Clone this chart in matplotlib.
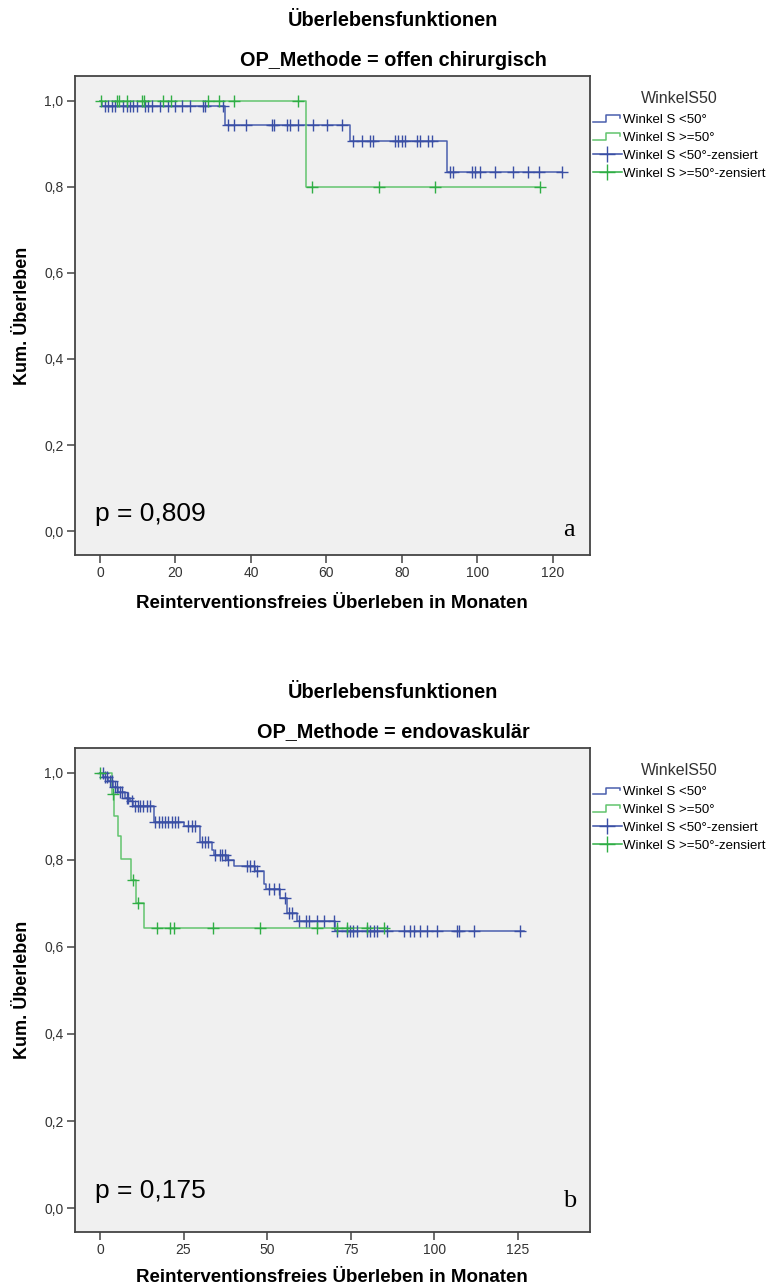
import numpy as np
import matplotlib
matplotlib.use("Agg")
import matplotlib.pyplot as plt
from matplotlib.legend_handler import HandlerBase
from matplotlib.lines import Line2D

plt.rcParams["font.family"] = ["Liberation Sans", "DejaVu Sans"]

# --- data: step times / survival levels / censoring times -------------------
# panel a: OP_Methode = offen chirurgisch
A_LT50_T = [0, 0.5, 33.0, 66.3, 92.0, 122.5]
A_LT50_S = [1.0, 0.988, 0.944, 0.907, 0.834, 0.834]
A_LT50_CENS = [1.3, 2.1, 3.2, 4.0, 6.1, 7.2, 8.0, 8.7, 9.8, 11.9, 12.7, 13.8,
               15.9, 18.0, 19.9, 21.7, 23.8, 27.3, 27.8, 32.6,
               33.8, 35.6, 38.6, 45.6, 46.2, 49.5, 50.3, 52.5, 56.5, 60.2, 64.2,
               66.9, 69.3, 71.5, 72.2, 78.1, 79.0, 79.9, 80.8, 83.9, 84.8, 87.0, 87.9,
               92.7, 93.6, 98.5, 99.3, 100.7, 104.6, 109.5, 113.5, 116.4, 122.5]
A_GE50_T = [0, 54.5, 116.6]
A_GE50_S = [1.0, 0.8, 0.8]
A_GE50_CENS = [0.2, 4.4, 5.1, 7.1, 11.0, 11.7, 16.8, 18.7, 28.7, 31.6, 35.6, 52.5,
               56.2, 74.0, 88.7, 116.6]

# panel b: OP_Methode = endovaskulär
B_LT50_T = [0, 1.0, 2.5, 4.0, 5.5, 7.5, 9.0, 10.0, 16.3, 25.0, 30.0, 33.4, 34.0,
            38.0, 40.0, 46.4, 48.9, 49.5, 53.9, 55.9, 58.9, 70.4, 126.7]
B_LT50_S = [1.0, 0.99, 0.982, 0.967, 0.957, 0.942, 0.935, 0.924, 0.888, 0.877,
            0.840, 0.822, 0.811, 0.800, 0.786, 0.774, 0.744, 0.732, 0.713, 0.678,
            0.659, 0.636, 0.636]
B_LT50_CENS = [0.8, 1.5, 2.0, 3.0, 3.6, 4.5, 5.0, 6.0, 6.6, 8.0, 8.5, 9.5, 10.5,
               11.3, 12.0, 13.0, 14.0, 15.0, 16.5, 17.7, 18.6, 19.5, 20.4, 21.6,
               22.5, 23.4, 26.4, 27.5, 28.4, 30.4, 31.4, 32.4, 34.4, 35.9, 36.4,
               37.4, 38.4, 44.0, 45.0, 46.0, 46.9, 50.4, 51.9, 53.4, 55.4, 56.4,
               57.4, 59.4, 61.5, 62.5, 64.9, 66.9, 69.9, 70.9, 73.9, 74.9, 75.8,
               76.8, 79.8, 80.8, 81.8, 82.8, 85.8, 90.8, 92.8, 93.8, 95.8, 97.8,
               100.8, 106.8, 107.3, 111.8, 125.7]
B_GE50_T = [0, 3.5, 4.2, 5.3, 6.3, 9.2, 10.8, 13.2, 85.8]
B_GE50_S = [1.0, 0.952, 0.902, 0.854, 0.803, 0.753, 0.702, 0.643, 0.643]
B_GE50_CENS = [0.1, 3.8, 10.0, 11.3, 17.0, 21.0, 22.0, 33.9, 47.9, 64.9, 70.9,
               73.9, 79.8, 84.8]

GROUPS = ["Winkel S <50°", "Winkel S >=50°"]
LEGEND_TITLE = "WinkelS50"
PANELS = [
    dict(method="offen chirurgisch", p="p = 0,809", tag="a",
         xticks=[0, 20, 40, 60, 80, 100, 120], xlim=(-6.75, 129.8),
         curves=[(A_LT50_T, A_LT50_S, A_LT50_CENS), (A_GE50_T, A_GE50_S, A_GE50_CENS)]),
    dict(method="endovaskulär", p="p = 0,175", tag="b",
         xticks=[0, 25, 50, 75, 100, 125], xlim=(-7.6, 146.5),
         curves=[(B_LT50_T, B_LT50_S, B_LT50_CENS), (B_GE50_T, B_GE50_S, B_GE50_CENS)]),
]

LINE_COLORS = ["#4a5fae", "#62c46e"]
CENS_COLORS = ["#3a4fa5", "#2fae45"]


def level_at(t, s, c):
    t = np.asarray(t)
    s = np.asarray(s)
    idx = np.searchsorted(t, c, side="right") - 1
    return s[np.clip(idx, 0, len(s) - 1)]


class StepHandler(HandlerBase):
    def create_artists(self, legend, orig_handle, xdescent, ydescent,
                       width, height, fontsize, trans):
        xs = np.array([0.0, 0.45, 0.45, 0.95, 0.95]) * width - xdescent
        ys = np.array([0.1, 0.1, 0.85, 0.85, 0.55]) * height - ydescent
        ln = Line2D(xs, ys, color=orig_handle.get_color(), lw=1.1)
        ln.set_transform(trans)
        return [ln]


fig = plt.figure(figsize=(7.69, 12.84), dpi=100)
axes_pos = [[0.0969, 0.5678, 0.6703, 0.3730], [0.0969, 0.0405, 0.6703, 0.3769]]
xlabel_y = [-0.083, -0.077]
tag_y = [0.052, 0.065]
title_y = [(20, 60), (693, 732)]

for k, panel in enumerate(PANELS):
    ax = fig.add_axes(axes_pos[k])
    ax.set_facecolor("#f0f0f0")

    step_handles = []
    cens_handles = []
    for g, (t, s, cens) in enumerate(panel["curves"]):
        h, = ax.step(t, s, where="post", color=LINE_COLORS[g], lw=1.1, zorder=3)
        step_handles.append(h)
        cy = level_at(t, s, cens)
        ax.plot(cens, cy, ls="none", marker="+", ms=8, mew=1.0,
                color=CENS_COLORS[g], zorder=4)
        cens_handles.append(Line2D([], [], color=CENS_COLORS[g], lw=1.1,
                                   marker="+", ms=11, mew=1.0))

    ax.set_xlim(*panel["xlim"])
    ax.set_ylim(-0.055, 1.057)
    ax.set_xticks(panel["xticks"])
    ax.set_yticks([0, 0.2, 0.4, 0.6, 0.8, 1.0])
    ax.set_yticklabels(["0,0", "0,2", "0,4", "0,6", "0,8", "1,0"])
    ax.tick_params(axis="both", direction="out", length=6, width=1.1,
                   color="#444444", labelsize=10, labelcolor="#333333", pad=2)
    for sp in ax.spines.values():
        sp.set_color("#444444")
        sp.set_linewidth(1.3)

    ax.set_xlabel("Reinterventionsfreies Überleben in Monaten",
                  fontsize=13.5, fontweight="bold")
    ax.xaxis.set_label_coords(0.5, xlabel_y[k])
    ax.set_ylabel("Kum. Überleben", fontsize=13, fontweight="bold")
    ax.yaxis.set_label_coords(-0.085, 0.5)

    ax.text(0.04, 0.085, panel["p"], transform=ax.transAxes, fontsize=19,
            va="center", ha="left")
    ax.text(0.96, tag_y[k], panel["tag"], transform=ax.transAxes, fontsize=19,
            family="Liberation Serif", va="center", ha="center")

    leg = ax.legend(step_handles + cens_handles,
                    GROUPS + [f"{g}-zensiert" for g in GROUPS],
                    title=LEGEND_TITLE, loc="upper left",
                    bbox_to_anchor=(1.0, 0.975), frameon=False, fontsize=9.5,
                    title_fontsize=11.5, handlelength=2.2, handletextpad=0.1,
                    labelspacing=0.42, borderaxespad=0.0, borderpad=0.2,
                    numpoints=1, handler_map={h: StepHandler() for h in step_handles})
    leg.get_title().set_color("#333333")
    leg._legend_box.sep = 6

    t1, t2 = title_y[k]
    fig.text(0.511, 1 - t1 / 1284, "Überlebensfunktionen", fontsize=14.3,
             fontweight="bold", ha="center", va="center")
    fig.text(0.511, 1 - t2 / 1284, f"OP_Methode = {panel['method']}", fontsize=14.3,
             fontweight="bold", ha="center", va="center")

fig.savefig("out.png", dpi=100, facecolor="white")
